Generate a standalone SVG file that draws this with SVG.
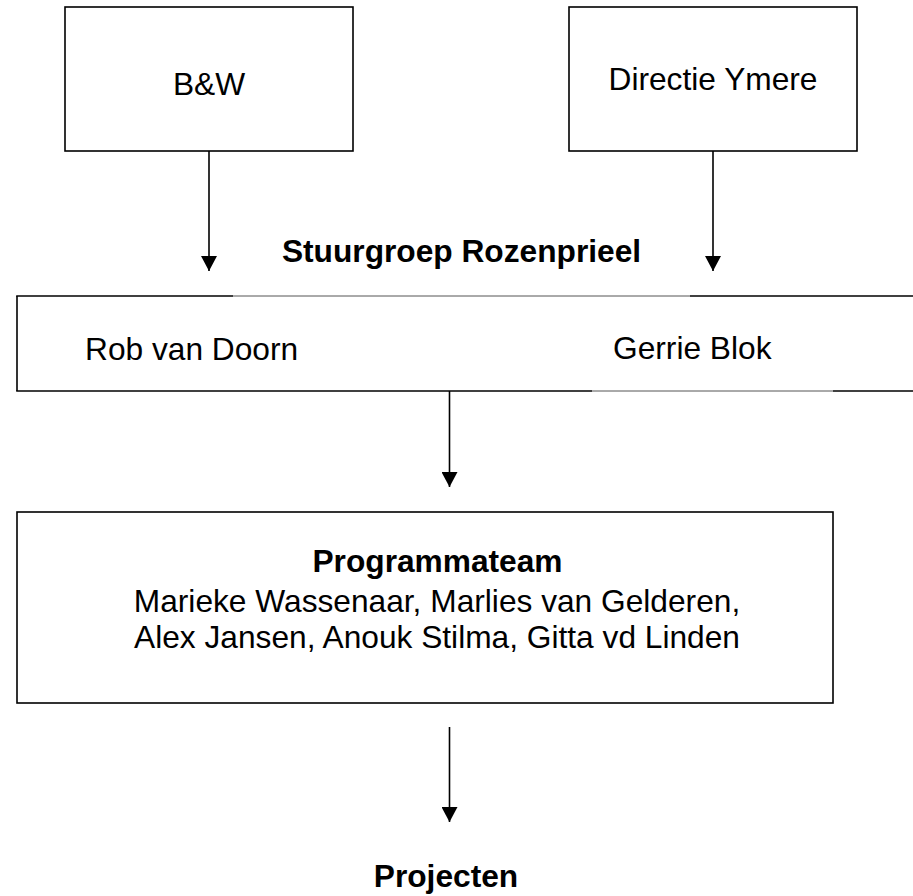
<svg xmlns="http://www.w3.org/2000/svg" width="913" height="896" viewBox="0 0 913 896">
<style>
.box{fill:#fff;stroke:#000;stroke-width:1.6}
.t{font-family:"Liberation Sans",Arial,sans-serif;font-size:31.7px;fill:#000}
.b{font-weight:bold}
.edge{stroke:#000;stroke-width:1.6;fill:none}
.gap{stroke:#555;stroke-width:1;fill:none}
.ar{stroke:#000;stroke-width:1.6;fill:none;marker-end:url(#ah)}
</style>
<defs>
<marker id="ah" markerUnits="userSpaceOnUse" markerWidth="16" markerHeight="16" refX="15" refY="8" orient="auto">
<path d="M0,0 L15,8 L0,16 Z" fill="#000"/>
</marker>
</defs>
<rect width="913" height="896" fill="#fff"/>
<g id="bw">
<rect class="box" x="65" y="7" width="288" height="144"/>
<text class="t" x="209" y="95" text-anchor="middle">B&amp;W</text>
</g>
<g id="directie">
<rect class="box" x="569" y="7" width="288" height="144"/>
<text class="t" x="713" y="90" text-anchor="middle">Directie Ymere</text>
</g>
<g id="stuurgroep">
<text class="t b" x="461.5" y="262" text-anchor="middle">Stuurgroep Rozenprieel</text>
<line class="edge" x1="17" y1="296" x2="17" y2="391"/>
<line class="edge" x1="16.2" y1="296" x2="233" y2="296"/>
<line class="gap" x1="233" y1="296" x2="690" y2="296"/>
<line class="edge" x1="690" y1="296" x2="913" y2="296"/>
<line class="edge" x1="16.2" y1="391" x2="592" y2="391"/>
<line class="gap" x1="592" y1="391" x2="833" y2="391"/>
<line class="edge" x1="833" y1="391" x2="913" y2="391"/>
<text class="t" x="85" y="360">Rob van Doorn</text>
<text class="t" x="613" y="359">Gerrie Blok</text>
</g>
<g id="programmateam">
<rect class="box" x="17" y="512" width="816" height="191"/>
<text class="t b" x="437.5" y="572" text-anchor="middle">Programmateam</text>
<text class="t" x="437" y="612" text-anchor="middle">Marieke Wassenaar, Marlies van Gelderen,</text>
<text class="t" x="437" y="648" text-anchor="middle">Alex Jansen, Anouk Stilma, Gitta vd Linden</text>
</g>
<g id="projecten">
<text class="t b" x="446" y="887" text-anchor="middle">Projecten</text>
</g>
<g id="connectors">
<line class="ar" x1="209" y1="151" x2="209" y2="271"/>
<line class="ar" x1="713" y1="151" x2="713" y2="271"/>
<line class="ar" x1="449.5" y1="391" x2="449.5" y2="487"/>
<line class="ar" x1="449.5" y1="727" x2="449.5" y2="822"/>
</g>
</svg>
